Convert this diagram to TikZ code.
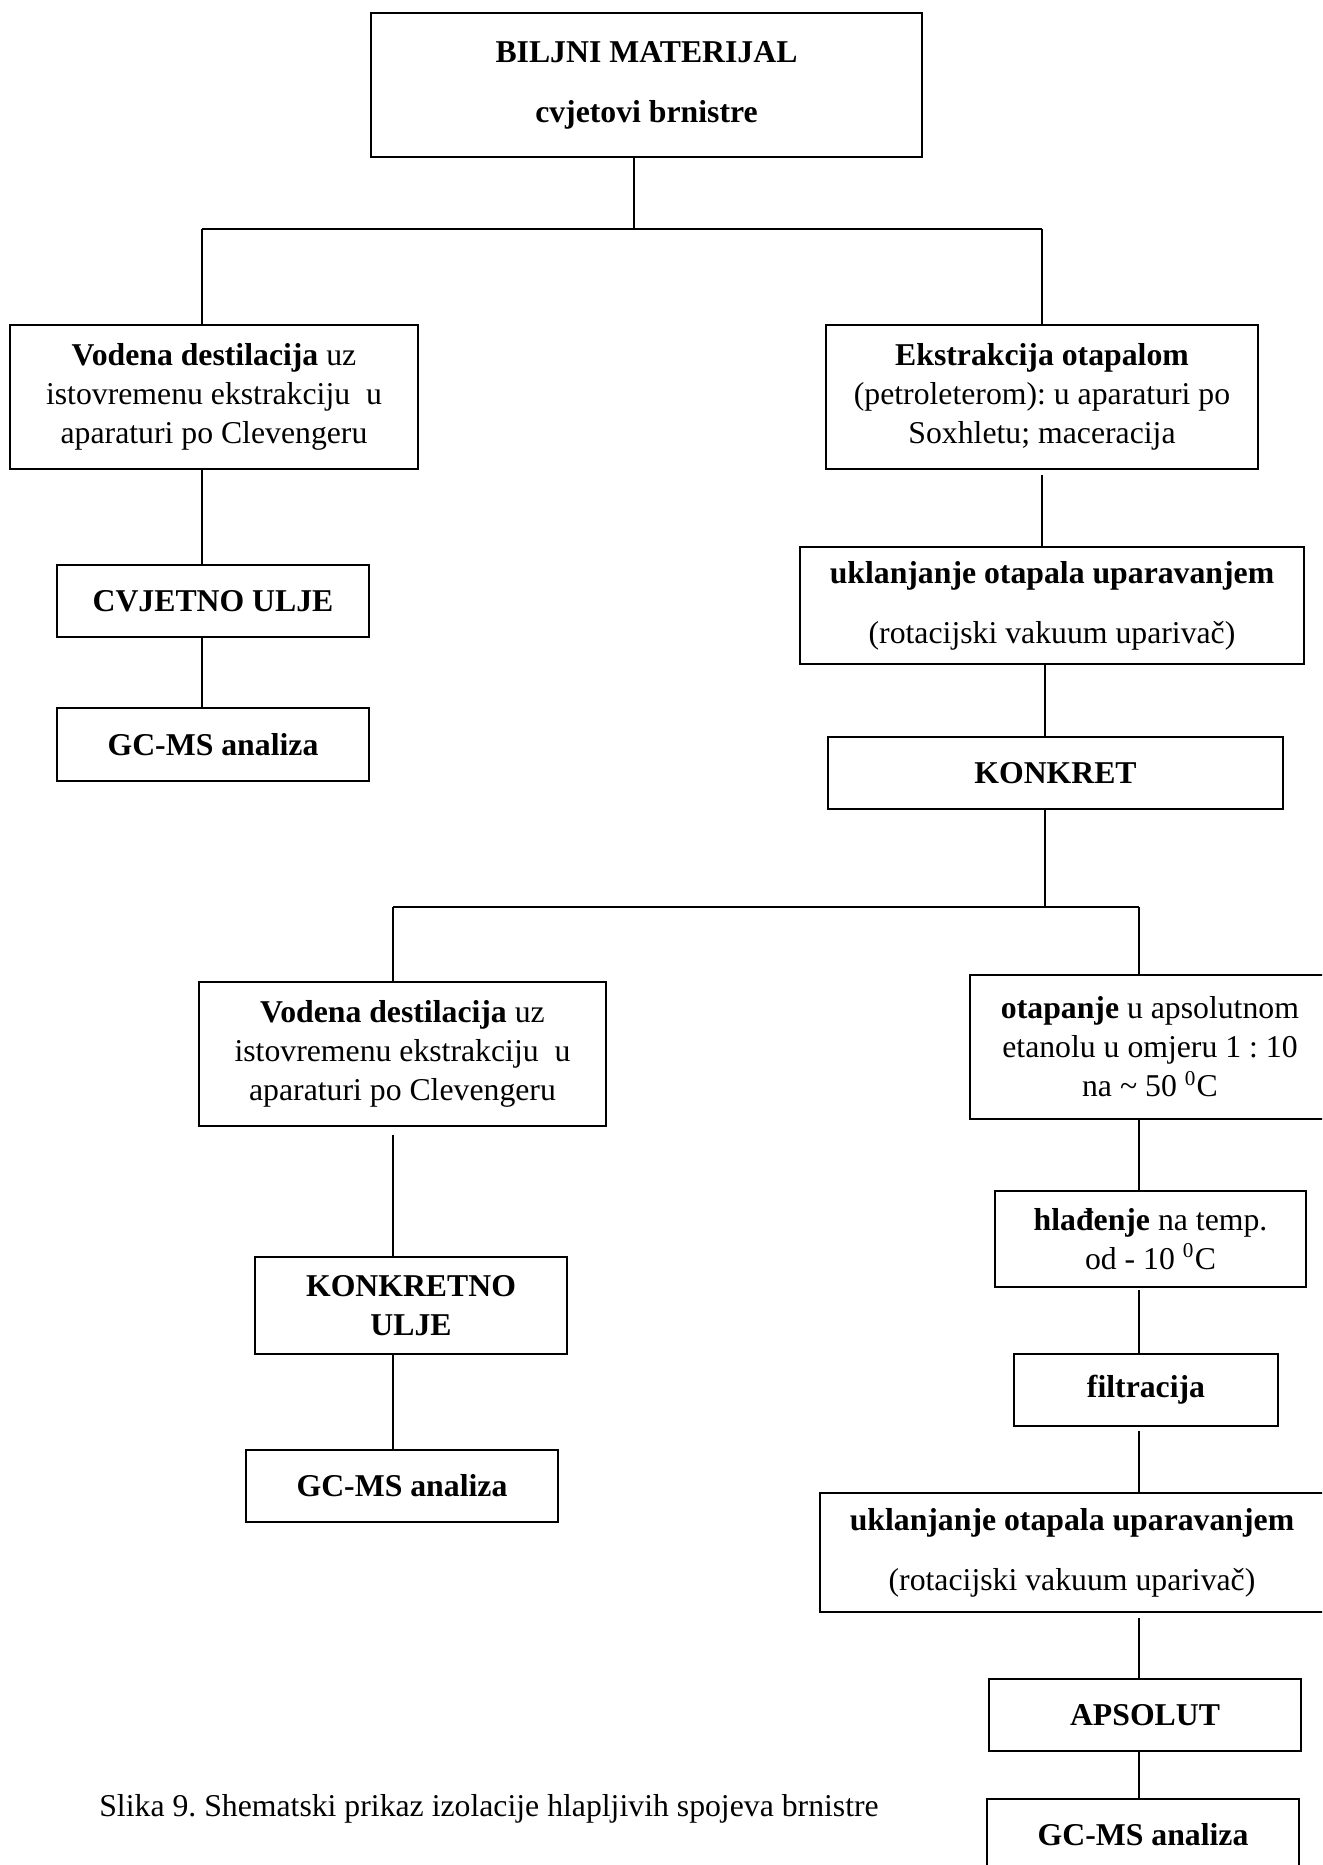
\documentclass[tikz,border=0pt]{standalone}
\usepackage{fontspec}
\setmainfont{Liberation Serif}
\usepackage{tikz}

\begin{document}
\frenchspacing
\begin{tikzpicture}[
            x=0.378pt, y=-0.378pt, line width=0.45pt,
            box/.style={draw, rectangle, line width=0.6pt, align=center, inner sep=2pt,
                        font=\fontsize{12}{14.7}\selectfont},
            branch/.style={line width=0.75pt}
            ]
            \useasboundingbox (0,0) rectangle (1322,1865);
            \clip (0,0) rectangle (1322,1865);

            % Nodes with manual coordinates
            \node[box, minimum width=551*0.378pt, minimum height=144*0.378pt] (mat) at (646.5,85)
                {\textbf{BILJNI MATERIJAL}\\[8pt]\textbf{cvjetovi brnistre}};
            \node[box, minimum width=408*0.378pt, minimum height=144*0.378pt] (vodI) at (214,397)
                {\textbf{Vodena destilacija} uz\\istovremenu ekstrakciju\ \ u\\aparaturi po Clevengeru};
            \node[box, minimum width=432*0.378pt, minimum height=144*0.378pt] (ekst) at (1042,397)
                {\textbf{Ekstrakcija otapalom}\\(petroleterom): u aparaturi po\\Soxhletu; maceracija};
            \node[box, minimum width=312*0.378pt, minimum height=72*0.378pt] (cvulje) at (213,601)
                {\textbf{CVJETNO ULJE}};
            \node[box, minimum width=312*0.378pt, minimum height=73*0.378pt] (gcmsI) at (213,744.5)
                {\textbf{GC-MS analiza}};
            \node[box, minimum width=504*0.378pt, minimum height=117*0.378pt] (uklI) at (1052,605.5)
                {\textbf{uklanjanje otapala uparavanjem}\\[8pt](rotacijski vakuum uparivač)};
            \node[box, minimum width=455*0.378pt, minimum height=72*0.378pt] (konkret) at (1055.5,773)
                {\textbf{KONKRET}};
            \node[box, minimum width=407*0.378pt, minimum height=144*0.378pt] (vodII) at (402.5,1054)
                {\textbf{Vodena destilacija} uz\\istovremenu ekstrakciju\ \ u\\aparaturi po Clevengeru};
            \node[box, minimum width=360*0.378pt, minimum height=144*0.378pt] (otap) at (1150,1047)
                {\textbf{otapanje} u apsolutnom\\etanolu u omjeru 1 : 10\\na \textasciitilde{} 50 \textsuperscript{0}C};
            \node[box, minimum width=312*0.378pt, minimum height=97*0.378pt] (kulje) at (411,1305.5)
                {\textbf{KONKRETNO}\\\textbf{ULJE}};
            \node[box, minimum width=312*0.378pt, minimum height=72*0.378pt] (gcmsII) at (402,1486)
                {\textbf{GC-MS analiza}};
            \node[box, minimum width=311*0.378pt, minimum height=96*0.378pt] (hlad) at (1150.5,1239)
                {\textbf{hlađenje} na temp.\\od - 10 \textsuperscript{0}C};
            \node[box, minimum width=264*0.378pt, minimum height=72*0.378pt] (filt) at (1146,1390)
                {\textbf{filtracija}};
            \node[box, minimum width=504*0.378pt, minimum height=119*0.378pt] (uklII) at (1072,1552.5)
                {\textbf{uklanjanje otapala uparavanjem}\\[8pt](rotacijski vakuum uparivač)};
            \node[box, minimum width=312*0.378pt, minimum height=72*0.378pt] (aps) at (1145,1715)
                {\textbf{APSOLUT}};
            \node[box, minimum width=312*0.378pt, minimum height=72*0.378pt] (gcmsIII) at (1143,1835)
                {\textbf{GC-MS analiza}};
            \node[font=\fontsize{12}{14.7}\selectfont] (slika) at (489,1809)
                {Slika 9. Shematski prikaz izolacije hlapljivih spojeva brnistre};

            % Branch points
            \coordinate (sI) at (634,229);
            \coordinate (sIl) at (202,229);
            \coordinate (sIr) at (1042,229);
            \coordinate (sII) at (1045,907);
            \coordinate (sIIl) at (393,907);
            \coordinate (sIIr) at (1139,907);

            % Lines
            \draw (mat.south -| sI) -- (sI);
            \draw[branch] (sIl) -- (sIr);
            \draw (sIl) -- (sIl |- vodI.north);
            \draw (sIr) -- (sIr |- ekst.north);
            \draw (vodI.south -| sIl) -- (cvulje.north -| sIl);
            \draw (cvulje.south -| sIl) -- (gcmsI.north -| sIl);
            \draw[shorten <=2pt] (ekst.south -| sIr) -- (uklI.north -| sIr);
            \draw (uklI.south -| sII) -- (konkret.north -| sII);
            \draw (konkret.south -| sII) -- (sII);
            \draw[branch] (sIIl) -- (sIIr);
            \draw (sIIl) -- (sIIl |- vodII.north);
            \draw (sIIr) -- (sIIr |- otap.north);
            \draw[shorten <=3pt] (vodII.south -| sIIl) -- (kulje.north -| sIIl);
            \draw (kulje.south -| sIIl) -- (gcmsII.north -| sIIl);
            \draw (otap.south -| sIIr) -- (hlad.north -| sIIr);
            \draw[shorten <=1pt] (hlad.south -| sIIr) -- (filt.north -| sIIr);
            \draw[shorten <=1.5pt] (filt.south -| sIIr) -- (uklII.north -| sIIr);
            \draw[shorten <=2pt] (uklII.south -| sIIr) -- (aps.north -| sIIr);
            \draw (aps.south -| sIIr) -- (gcmsIII.north -| sIIr);
        \end{tikzpicture}
\end{document}
